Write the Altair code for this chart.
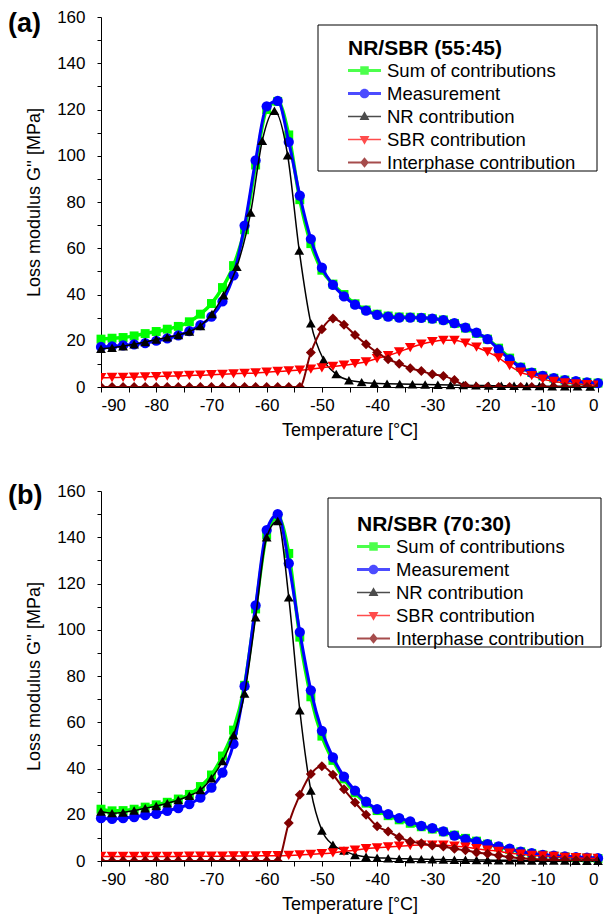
import altair as alt
import pandas as pd

# ---------------- data ----------------
T = list(range(-90, 1, 2))

# panel (a) NR/SBR (55:45)
a_sum = [20.7, 21.1, 21.4, 22.1, 23.1, 24.0, 25.0, 26.2, 28.2, 31.5, 36.1, 43.0, 52.5, 68.0, 96.0, 120.0,
         123.5, 109.0, 81.0, 62.0, 50.5, 44.5, 40.0, 36.0, 33.3, 31.5, 30.7, 30.3, 30.2, 30.0, 29.5, 29.0,
         27.5, 25.5, 23.2, 20.7, 16.8, 12.5, 8.6, 6.3, 4.8, 3.8, 3.0, 2.4, 2.0, 1.7]
a_meas = [17.3, 17.6, 18.0, 18.4, 19.0, 20.0, 21.0, 22.3, 24.2, 26.8, 30.4, 37.0, 48.3, 69.8, 98.0, 121.4,
          123.7, 106.0, 82.8, 64.0, 51.6, 44.2, 39.2, 35.6, 33.0, 31.2, 30.4, 30.0, 30.0, 29.9, 29.6, 28.9,
          27.6, 25.7, 23.5, 20.7, 16.3, 12.0, 8.4, 6.2, 4.8, 3.8, 3.0, 2.5, 2.0, 1.7]
a_nr_T = [-90, -88, -86, -84, -82, -80, -78, -76, -74, -72, -69.9, -67.8, -65.4, -62.9, -60.8, -58.6,
          -56.2, -54.1, -52.0, -49.7, -47.4, -45.1, -42.8, -40.5, -38.2, -35.9, -33.6, -31.3, -29.0, -26.7,
          -24.4, -22.1, -19.8, -17.5, -15.2, -12.9, -10.6, -8.3, -6.0, -3.7, -1.4]
a_nr = [16.5, 17.0, 17.6, 18.5, 19.5, 20.5, 21.5, 22.5, 24.0, 26.4, 31.6, 39.7, 52.0, 75.4, 106.5, 119.5,
        100.2, 59.0, 27.6, 11.8, 5.6, 2.9, 2.1, 1.6, 1.4, 1.3, 1.2, 1.1, 1.0, 0.9, 0.8, 0.7, 0.6, 0.5, 0.5,
        0.4, 0.4, 0.3, 0.3, 0.3, 0.2]
a_sbr = [4.0, 4.1, 4.2, 4.3, 4.4, 4.5, 4.7, 4.8, 5.0, 5.1, 5.3, 5.5, 5.7, 5.9, 6.1, 6.4, 6.7, 7.0, 7.3,
         7.7, 8.3, 8.9, 9.4, 10.1, 10.9, 12.3, 13.6, 15.2, 17.0, 18.5, 19.6, 20.2, 20.2, 19.0, 17.2, 15.2,
         12.6, 9.2, 6.4, 4.9, 3.4, 2.4, 1.8, 1.3, 1.0, 0.8]
a_inter = [0.0] * 19 + [14.9, 25.0, 29.6, 26.9, 22.5, 18.5, 14.9, 12.0, 10.1, 8.1, 6.9, 5.5, 4.8, 3.0, 0.5] + [0.0] * 12

# panel (b) NR/SBR (70:30)
b_sum = [22.4, 21.7, 21.8, 22.4, 23.3, 24.3, 25.4, 26.8, 28.8, 32.2, 37.2, 45.4, 56.6, 76.0, 109.0, 141.0,
         149.0, 133.0, 96.8, 71.0, 54.0, 43.5, 35.5, 29.5, 25.0, 21.8, 19.6, 17.8, 16.3, 14.8, 13.8, 12.6,
         11.2, 9.8, 8.6, 7.3, 6.1, 5.0, 4.0, 3.3, 2.6, 2.1, 1.8, 1.5, 1.3, 1.1]
b_meas = [18.5, 18.2, 18.5, 19.0, 19.8, 20.4, 21.7, 22.9, 24.6, 27.4, 31.7, 38.2, 50.6, 75.6, 110.5, 143.1,
          150.0, 128.7, 99.0, 73.8, 56.3, 44.8, 36.5, 30.4, 25.7, 22.4, 20.3, 18.5, 17.1, 15.2, 14.2, 12.8,
          11.0, 9.5, 8.4, 7.3, 6.3, 5.3, 4.1, 3.4, 2.7, 2.3, 2.0, 1.7, 1.5, 1.2]
b_nr = [21.4, 20.7, 21.0, 21.8, 22.8, 23.8, 25.0, 26.4, 28.2, 30.7, 35.8, 43.2, 54.4, 72.4, 105.4, 140.0,
        147.0, 114.0, 65.2, 30.5, 13.2, 7.0, 4.5, 2.6, 1.8, 1.4, 1.2, 1.0, 0.9, 0.8, 0.7, 0.6, 0.5, 0.5,
        0.4, 0.4, 0.3, 0.3, 0.3, 0.2, 0.2, 0.2, 0.2, 0.1, 0.1, 0.1]
b_sbr = [2.0, 2.0, 2.0, 2.0, 2.0, 2.0, 2.0, 2.0, 2.1, 2.1, 2.1, 2.1, 2.2, 2.2, 2.2, 2.3, 2.3, 2.4, 2.6, 2.9,
         3.2, 3.5, 4.2, 4.7, 5.3, 5.7, 6.1, 6.4, 6.7, 6.9, 6.9, 6.9, 6.4, 6.0, 5.3, 4.7, 4.2, 3.4, 3.0, 2.4,
         2.2, 2.0, 1.6, 1.4, 1.2, 1.1]
b_inter = [0.0] * 17 + [16.4, 28.6, 37.6, 41.0, 37.3, 31.0, 25.3, 20.0, 15.0, 12.8, 10.3, 8.4, 7.7, 6.7, 6.3,
                        5.3, 4.6, 3.7, 3.1, 2.4, 1.7, 1.2, 0.9, 0.7, 0.5, 0.4, 0.3, 0.3, 0.2]

names = ["Sum of contributions", "Measurement", "NR contribution", "SBR contribution", "Interphase contribution"]
colors = ["#00FF00", "#0000FF", "#000000", "#FF0000", "#800000"]
x_ticks = list(range(-90, 1, 5))
y_ticks = list(range(0, 161, 10))

FONT = "Liberation Sans"
W, H = 497, 370

# ---------------- legend symbols (line + marker) ----------------
cx = 0.435


def line_part(h):
    return f"M-1,{-h}H1.87V{h}H-1Z"


r = 0.42
sym_square = f"M{cx - 0.37:.3f},-0.37H{cx + 0.37:.3f}V0.37H{cx - 0.37:.3f}Z"
sym_circle = f"M{cx - r:.3f},0A{r},{r} 0 1,1 {cx + r:.3f},0A{r},{r} 0 1,1 {cx - r:.3f},0Z"
sym_tri_up = f"M{cx:.3f},-0.46L{cx + 0.43:.3f},0.3L{cx - 0.43:.3f},0.3Z"
sym_tri_dn = f"M{cx:.3f},0.46L{cx - 0.43:.3f},-0.3L{cx + 0.43:.3f},-0.3Z"
sym_diam = f"M{cx:.3f},-0.46L{cx + 0.38:.3f},0L{cx:.3f},0.46L{cx - 0.38:.3f},0Z"
paths = [
    line_part(0.14) + sym_square,
    line_part(0.13) + sym_circle,
    line_part(0.06) + sym_tri_up,
    line_part(0.06) + sym_tri_dn,
    line_part(0.08) + sym_diam,
]

X = alt.X("T:Q", scale=alt.Scale(domain=[-90, 0], nice=False, zero=False),
          axis=alt.Axis(values=x_ticks, labelExpr="datum.value % 10 == 0 ? '' + datum.value : ''",
                        title="Temperature [°C]", tickSize=5, labelPadding=5, titlePadding=8))
Y = alt.Y("v:Q", scale=alt.Scale(domain=[0, 160], nice=False),
          axis=alt.Axis(values=y_ticks, labelExpr="datum.value % 20 == 0 ? '' + datum.value : ''",
                        title="Loss modulus G'' [MPa]", tickSize=4, labelPadding=12, titlePadding=13))


def series(tv, vv, color, shape, size, sw, clip=False):
    df = pd.DataFrame({"T": tv, "v": vv})
    base = alt.Chart(df)
    ln = base.mark_line(color=color, strokeWidth=sw, interpolate="monotone", clip=clip).encode(x=X, y=Y)
    pt = base.mark_point(shape=shape, filled=True, color=color, size=size, opacity=1, clip=clip).encode(x=X, y=Y)
    return [ln, pt]


def panel(label, label_y, title, s_sum, s_meas, nr_T, s_nr, s_sbr, s_inter, box, leg_xy):
    layers = []
    bx0, bx1, by0, by1 = box
    layers.append(alt.Chart(pd.DataFrame({"k": [0]})).mark_rect(fill="white", stroke="black", strokeWidth=1)
                  .encode(x=alt.value(bx0), x2=alt.value(bx1), y=alt.value(by0), y2=alt.value(by1)))
    layers.append(alt.Chart(pd.DataFrame({"k": [0]})).mark_text(
        align="left", baseline="middle", fontSize=27, fontWeight="bold", font=FONT, color="black")
        .encode(x=alt.value(-93), y=alt.value(label_y), text=alt.value(label)))
    layers += series(T, s_sum, colors[0], "square", 80, 3.5)
    layers += series(T, s_meas, colors[1], "circle", 105, 3)
    layers += series(nr_T, s_nr, colors[2], "triangle-up", 95, 1.5)
    layers += series(T, s_sbr, colors[3], "triangle-down", 115, 1.5, clip=True)
    layers += series(T, s_inter, colors[4], "diamond", 100, 2, clip=True)
    leg = alt.Legend(title=title, orient="none", legendX=leg_xy[0], legendY=leg_xy[1],
                     titleFontSize=21, titleFontWeight="bold", titleFont=FONT, titleColor="black",
                     labelFontSize=18.5, labelFont=FONT, labelColor="black", labelLimit=400,
                     symbolSize=529, symbolStrokeWidth=0, rowPadding=2, titlePadding=0,
                     labelOffset=16, padding=0, symbolOffset=0)
    legend_df = pd.DataFrame({"series": names, "T": [-50.0] * 5, "v": [50.0] * 5})
    layers.append(alt.Chart(legend_df).transform_filter("false").mark_point(filled=True, size=529).encode(
        x=X, y=Y,
        color=alt.Color("series:N", scale=alt.Scale(domain=names, range=colors), legend=leg),
        shape=alt.Shape("series:N", scale=alt.Scale(domain=names, range=paths), legend=leg)))
    return alt.layer(*layers).properties(width=W, height=H)


pa = panel("(a)", 7, "NR/SBR (55:45)", a_sum, a_meas, a_nr_T, a_nr, a_sbr, a_inter,
           (217, 496, 8, 154), (247, 21))
pb = panel("(b)", 5, "NR/SBR (70:30)", b_sum, b_meas, T, b_nr, b_sbr, b_inter,
           (227, 500, 7, 156), (256, 23))

chart = alt.vconcat(pa, pb, spacing=43).resolve_scale(
    color="independent", shape="independent").resolve_legend(
    color="independent", shape="independent").properties(
    padding={"left": 0, "top": 0, "right": 0, "bottom": 5}
).configure_view(stroke=None).configure_axis(
    domainColor="black", domainWidth=1, tickColor="black", tickWidth=1, grid=False,
    labelFont=FONT, labelFontSize=17, labelColor="black",
    titleFont=FONT, titleFontSize=18, titleFontWeight="normal", titleColor="black")

chart.save("out.html", embed_options={"renderer": "svg", "actions": False})
